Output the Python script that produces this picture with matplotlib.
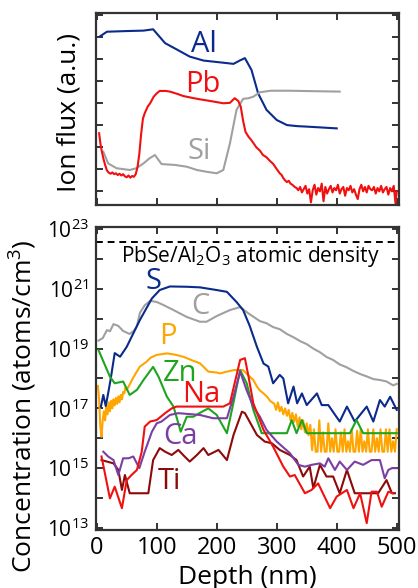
import numpy as np
import matplotlib
matplotlib.use("Agg")
import matplotlib.pyplot as plt
from matplotlib.ticker import FixedLocator, FixedFormatter

plt.rcParams['font.family'] = ['Open Sans', 'DejaVu Sans']
plt.rcParams['mathtext.fontset'] = 'custom'
plt.rcParams['mathtext.rm'] = 'Open Sans'
plt.rcParams['mathtext.it'] = 'Open Sans'
plt.rcParams['mathtext.bf'] = 'Open Sans'

# ---------------- top panel: ion flux (a.u.) ----------------
al_depth = [5, 17, 50, 78, 94, 114, 133, 155, 178, 205, 228, 239, 247, 258, 269, 283, 300, 317, 335, 350, 400]
al_flux = [8.03, 8.25, 8.28, 8.30, 8.36, 7.73, 7.45, 7.12, 6.94, 6.86, 6.79, 6.95, 7.05, 6.51, 5.45, 4.70, 4.24, 4.01, 3.96, 3.94, 3.86]

si_depth = [11, 19, 33, 55, 66, 78, 88, 97, 108, 130, 150, 167, 183, 200, 211, 222, 233, 244, 253, 261, 272, 290, 320, 360, 405]
si_flux = [2.8, 2.27, 2.05, 1.97, 2.05, 2.27, 2.5, 2.65, 2.24, 2.2, 2.12, 1.97, 1.89, 1.82, 1.97, 3.18, 4.7, 5.2, 5.23, 5.3, 5.5, 5.57, 5.57, 5.55, 5.53]

pb_depth = [4, 6, 8, 11, 14, 17, 20, 23, 26, 29, 32, 35, 38, 41, 44, 47, 50, 53, 56, 59, 62, 65, 68, 71, 74, 77,
            80, 85, 89, 95, 100, 105, 115, 122, 135, 144, 160, 172, 190, 211, 222, 230, 236, 240, 244, 248, 253,
            257, 261, 266, 272, 277, 283, 288, 294, 299, 305, 308, 311, 314, 317, 320, 323, 326, 330,
            333, 336, 339, 342, 345, 348, 351, 354, 357, 360, 363, 366, 369, 372, 375, 378, 381, 384, 387, 390,
            393, 396, 399, 402, 405, 408, 411, 414, 417, 420, 423, 426, 429, 432, 435, 438, 441, 444, 447, 450,
            453, 456, 459, 462, 465, 468, 471, 474, 477, 480, 483, 486, 489, 492, 495, 498, 500]
pb_flux = [3.64, 3.2, 2.88, 2.5, 2.2, 1.95, 1.85, 1.8, 1.86, 1.78, 1.82, 1.74, 1.8, 1.72, 1.78, 1.68, 1.64, 1.72, 1.62, 1.7, 1.66, 1.78, 2.1, 2.7, 3.6, 4.3,
           4.55, 4.85, 5.0, 5.3, 5.45, 5.56, 5.56, 5.53, 5.42, 5.33, 5.24, 5.18, 5.1, 5.0, 5.02, 5.23, 5.1, 4.85, 4.2, 3.7, 3.48,
           3.35, 3.2, 3.0, 2.85, 2.65, 2.55, 2.4, 2.25, 2.05, 1.82, 1.75, 1.6, 1.5, 1.42, 1.48, 1.35, 1.3, 1.2,
           1.15, 1.05, 1.2, 0.95, 1.1, 1.25, 0.9, 1.1, 0.5, 1.05, 1.3, 0.85, 1.15, 1.0, 1.35, 0.55, 1.2, 0.9, 1.1, 1.25,
           0.95, 1.15, 1.05, 1.3, 0.9, 1.1, 1.2, 0.8, 1.15, 1.05, 1.25, 0.95, 1.1, 0.85, 0.65, 1.1, 1.3, 1.0, 1.2, 0.95,
           1.25, 1.1, 1.05, 1.2, 0.9, 1.15, 1.0, 1.25, 0.95, 1.1, 1.2, 0.85, 1.15, 1.0, 1.25, 0.45, 1.0]

# ---------------- bottom panel: log10 concentration (atoms/cm^3) ----------------
s_depth = [7, 11, 15, 19, 23, 30, 39, 50, 72, 92, 105, 122, 150, 172, 200, 217, 233, 244, 255, 267, 278, 286, 294, 305, 311, 319,
           328, 334, 342, 350, 367, 375, 386, 405, 417, 430, 450, 461, 472, 480, 489, 500]
s_log = [17.06, 17.45, 17.08, 17.5, 17.95, 18.85, 18.73, 19.06, 19.96, 20.68, 20.96, 21.08, 21.07, 21.05, 20.96, 20.9, 20.56, 20.29, 19.76, 19.06, 18.5, 18.4, 17.84, 18.12, 18.0, 17.17,
         17.73, 17.17, 17.5, 17.11, 17.5, 17.11, 17.11, 16.56, 17.06, 16.56, 17.06, 16.56, 17.28, 17.06, 17.39, 16.95]

c_depth = [3, 10, 17, 22, 28, 36, 44, 55, 62, 67, 72, 80, 89, 100, 111, 128, 150, 172, 183, 200, 222, 239, 252, 272, 283, 294, 305,
           317, 328, 339, 350, 361, 372, 383, 394, 405, 416, 428, 439, 450, 461, 472, 483, 494, 500]
c_log = [19.27, 19.35, 19.62, 19.58, 19.82, 19.76, 19.59, 19.49, 19.6, 19.75, 20.2, 20.45, 20.6, 20.56, 20.46, 20.29, 20.06, 19.9, 19.9, 20.09, 20.29, 20.39, 20.19, 19.92, 19.85, 19.72, 19.65,
         19.49, 19.38, 19.25, 19.15, 19.0, 18.88, 18.72, 18.62, 18.47, 18.38, 18.25, 18.15, 18.07, 17.98, 17.95, 17.9, 17.77, 17.82]

p_depth = [2, 4, 6, 8, 10, 12, 14, 16, 18, 20, 22, 24, 26, 28, 30, 32, 34, 36, 38, 40, 42, 44, 46, 48, 50, 55, 60, 65, 72, 83, 90,
           100, 117, 130, 144, 160, 172, 186, 200, 205, 215, 228, 244, 253, 261, 267, 272, 278, 284, 289,
           296, 299, 302, 305, 308, 311, 314, 317, 320, 323, 326, 329, 332, 335, 338, 341, 344, 347, 350, 353, 356, 359,
           362, 365, 368, 371, 374, 377, 380, 383, 386, 389, 392, 395, 398, 401, 404, 407, 410, 413, 416, 419, 422, 425,
           428, 431, 434, 437, 440, 443, 446, 449, 452, 455, 458, 461, 464, 467, 470, 473, 476, 479, 482, 485, 488, 491,
           494, 497, 500]
p_log = [17.75, 17.3, 16.4, 16.05, 16.6, 16.9, 16.6, 17.1, 16.8, 17.2, 16.9, 17.25, 17.0, 17.3, 17.1, 17.35, 17.15, 17.4, 17.2, 17.45, 17.3, 17.55, 17.5, 17.7, 17.62, 17.8, 18.0, 18.17, 18.4, 18.56, 18.7,
         18.79, 18.84, 18.8, 18.73, 18.6, 18.51, 18.23, 18.2, 18.17, 18.22, 18.28, 18.28, 18.1, 17.95, 17.73, 17.6, 17.5, 17.39, 17.25,
         17.15, 16.95, 17.2, 16.9, 17.05, 16.8, 17.0, 16.75, 16.95, 16.6, 16.85, 16.55, 16.8, 16.4, 16.7, 16.3, 16.6, 16.2, 16.5, 16.1, 16.45, 15.6,
         16.3, 15.55, 15.55, 16.6, 15.55, 16.2, 15.55, 15.55, 16.5, 15.55, 16.0, 15.55, 16.3, 15.55, 15.55, 16.2, 15.55, 16.3, 15.55, 15.9, 15.55, 16.3,
         15.55, 15.55, 16.25, 15.55, 16.3, 15.55, 15.9, 15.55, 16.3, 15.55, 15.55, 16.3, 15.55, 16.0, 15.55, 16.3, 15.55, 15.55, 16.3, 15.55, 16.3, 15.55,
         15.9, 15.55, 16.3]

zn_depth = [3, 22, 30, 44, 55, 67, 78, 94, 103, 117, 128, 140, 150, 161, 172, 186, 200, 217, 228, 239, 250, 261, 275, 317, 325, 333, 342, 350, 422, 433, 444, 500]
zn_log = [18.95, 18.06, 17.84, 17.9, 17.45, 17.62, 17.95, 18.39, 18.06, 17.39, 17.06, 16.22, 16.72, 16.72, 16.85, 17.0, 16.78, 16.17, 17.2, 18.28, 17.84, 16.95, 16.17, 16.17, 16.61, 16.17, 16.61, 16.17, 16.17, 16.61, 16.17, 16.17]

na_depth = [8, 22, 30, 42, 50, 58, 67, 75, 80, 89, 100, 114, 125, 133, 211, 222, 239, 247, 253, 261, 278, 294, 311, 322, 330, 347, 358, 369, 389, 400, 417, 428, 439, 450, 458, 467, 475, 486, 494]
na_log = [15.39, 13.99, 14.38, 13.66, 14.6, 14.77, 14.94, 15.55, 16.39, 16.56, 16.61, 16.84, 17.0, 17.06, 17.06, 17.17, 18.62, 18.68, 18.06, 17.17, 16.28, 15.72, 15.05, 14.72, 14.77, 14.16, 14.27, 14.49, 13.66, 14.05, 14.27, 13.66, 14.16, 13.16, 14.21, 14.21, 13.71, 14.21, 14.16]

ca_depth = [11, 19, 28, 36, 44, 53, 61, 71, 80, 92, 100, 108, 122, 136, 172, 194, 217, 228, 239, 250, 261, 272, 283, 300, 322, 336, 347, 358, 372, 380, 386, 397, 405, 417, 430, 444, 458, 472, 480, 486, 492, 500]
ca_log = [15.55, 15.39, 15.27, 14.77, 15.33, 15.33, 15.39, 15.0, 15.55, 16.22, 16.5, 16.56, 16.78, 16.84, 16.78, 16.67, 16.67, 17.39, 18.23, 17.6, 17.06, 16.72, 16.28, 15.89, 15.5, 15.11, 15.05, 15.11, 15.16, 15.05, 15.33, 14.94, 15.22, 14.94, 15.22, 15.11, 15.27, 15.27, 14.66, 14.94, 15.0, 15.0]

ti_depth = [8, 17, 28, 36, 42, 47, 55, 86, 94, 105, 114, 125, 136, 144, 155, 167, 178, 186, 203, 217, 228, 242, 247, 267, 280, 292, 305, 322, 333, 344, 355, 361, 372, 383, 394, 405, 417, 430, 469, 483, 492, 497]
ti_log = [15.27, 15.22, 15.16, 14.94, 14.27, 14.77, 14.16, 14.16, 15.27, 15.67, 15.55, 15.44, 15.61, 15.44, 15.22, 15.44, 15.67, 15.44, 15.61, 15.27, 16.11, 16.89, 16.84, 16.11, 15.89, 15.83, 15.61, 15.44, 15.27, 14.72, 15.05, 14.33, 15.11, 14.72, 14.72, 14.16, 14.94, 14.16, 14.16, 14.6, 14.16, 14.16]

density_log = 22.58
x_ticks = [0, 100, 200, 300, 400, 500]
y_exponents = list(range(13, 24))

C_NAVY = '#0a2a8c'
C_RED = '#f01010'
C_GRAY = '#a0a0a0'
C_ORANGE = '#ffa500'
C_GREEN = '#1ea51e'
C_PURPLE = '#7a3fa2'
C_DRED = '#8c0a0a'
SPINE = '#333333'

W, H = 418, 588
fig = plt.figure(figsize=(W / 100, H / 100), dpi=100)

def px_axes(l, t, r, b):
    return fig.add_axes([l / W, 1 - b / H, (r - l) / W, (b - t) / H])

ax1 = px_axes(95.7, 13, 399, 205)
ax2 = px_axes(95.7, 227, 399, 530)

LW = 1.5
ax1.plot(al_depth, al_flux, color=C_NAVY, lw=LW)
ax1.plot(si_depth, si_flux, color=C_GRAY, lw=LW)
ax1.plot(pb_depth, pb_flux, color=C_RED, lw=LW)
ax1.set_xlim(-1.7, 503.8)
ax1.set_ylim(0.38, 9.1)
ax1.set_yticks(range(1, 10))
ax1.set_xticks(x_ticks)
ax1.tick_params(labelleft=False, labelbottom=False)
ax1.text(179, 7.65, 'Al', color=C_NAVY, fontsize=21, ha='center', va='center')
ax1.text(177, 5.83, 'Pb', color=C_RED, fontsize=21, ha='center', va='center')
ax1.text(171, 2.79, 'Si', color=C_GRAY, fontsize=21, ha='center', va='center')

def pw(a):
    return 10.0 ** np.asarray(a, dtype=float)

ax2.set_yscale('log')
ax2.plot(c_depth, pw(c_log), color=C_GRAY, lw=LW)
ax2.plot(p_depth, pw(p_log), color=C_ORANGE, lw=LW)
ax2.plot(s_depth, pw(s_log), color=C_NAVY, lw=LW)
ax2.plot(zn_depth, pw(zn_log), color=C_GREEN, lw=LW)
ax2.plot(ti_depth, pw(ti_log), color=C_DRED, lw=LW)
ax2.plot(ca_depth, pw(ca_log), color=C_PURPLE, lw=LW)
ax2.plot(na_depth, pw(na_log), color=C_RED, lw=LW)
ax2.axhline(10 ** density_log, color='black', lw=1.4, ls=(0, (3.5, 2.5)))
ax2.set_xlim(-1.7, 503.8)
ax2.set_ylim(10 ** 12.93, 10 ** 23.07)
ax2.set_xticks(x_ticks)
ax2.set_xticklabels([str(v) for v in x_ticks])
ax2.yaxis.set_major_locator(FixedLocator([10.0 ** e for e in y_exponents]))
ax2.yaxis.set_major_formatter(FixedFormatter(
    [(r'$10^{%d}$' % e) if e % 2 == 1 else '' for e in y_exponents]))
ax2.yaxis.set_minor_locator(FixedLocator([]))

ax2.text(256, 10 ** 22.07, r'PbSe/Al$_2$O$_3$ atomic density', fontsize=15, ha='center', va='center')
ax2.text(94, 10 ** 21.24, 'S', color=C_NAVY, fontsize=21, ha='center', va='center')
ax2.text(172, 10 ** 20.4, 'C', color=C_GRAY, fontsize=21, ha='center', va='center')
ax2.text(119, 10 ** 19.42, 'P', color=C_ORANGE, fontsize=21, ha='center', va='center')
ax2.text(139, 10 ** 18.18, 'Zn', color=C_GREEN, fontsize=21, ha='center', va='center')
ax2.text(175, 10 ** 17.45, 'Na', color=C_RED, fontsize=21, ha='center', va='center')
ax2.text(139, 10 ** 16.05, 'Ca', color=C_PURPLE, fontsize=21, ha='center', va='center')
ax2.text(122, 10 ** 14.55, 'Ti', color=C_DRED, fontsize=21, ha='center', va='center')

for ax in (ax1, ax2):
    for sp in ax.spines.values():
        sp.set_color(SPINE)
        sp.set_linewidth(1.6)
    ax.tick_params(which='both', direction='in', top=True, right=True,
                   length=5, width=1.4, color=SPINE, labelsize=17, pad=4)
ax2.tick_params(axis='y', labelsize=15, pad=5)

fig.text(69 / W, 1 - 113 / H, 'Ion flux (a.u.)', rotation=90, fontsize=19, ha='center', va='center')
fig.text(23 / W, 1 - 406 / H, r'Concentration (atoms/cm$^3$)', rotation=90, fontsize=19, ha='center', va='center')
fig.text(247 / W, 1 - 577 / H, 'Depth (nm)', fontsize=19, ha='center', va='center')

fig.savefig('out.png', dpi=100)
